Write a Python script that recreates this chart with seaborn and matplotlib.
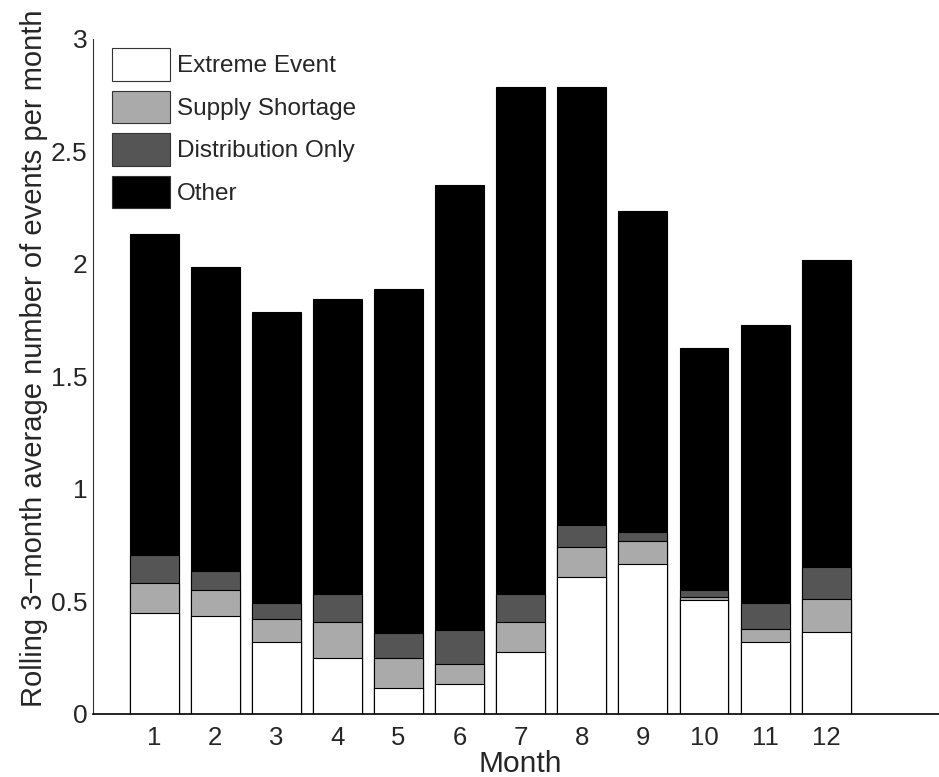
import numpy as np
import pandas as pd
import seaborn as sns
import matplotlib.pyplot as plt

months = list(range(1, 13))
extreme = [0.447, 0.434, 0.319, 0.246, 0.114, 0.129, 0.274, 0.607, 0.667, 0.507, 0.319, 0.363]
supply = [0.132, 0.117, 0.102, 0.160, 0.132, 0.089, 0.132, 0.132, 0.100, 0.013, 0.059, 0.145]
distribution = [0.128, 0.085, 0.071, 0.127, 0.114, 0.155, 0.127, 0.099, 0.042, 0.028, 0.114, 0.142]
other = [1.426, 1.352, 1.295, 1.310, 1.526, 1.976, 2.252, 1.947, 1.427, 1.079, 1.234, 1.368]

names = ['Extreme Event', 'Supply Shortage', 'Distribution Only', 'Other']
colors = ['#ffffff', '#aaaaaa', '#555555', '#000000']

sns.set_style('white')
plt.rcParams['font.family'] = ['Liberation Sans', 'DejaVu Sans']

df = pd.DataFrame({'Month': months, names[0]: extreme, names[1]: supply,
                   names[2]: distribution, names[3]: other})
# cumulative tops, drawn from the tallest down so the stack shows
tops = df[names].cumsum(axis=1)

fig = plt.figure(figsize=(9.39, 7.77), dpi=100)
ax = fig.add_axes([93 / 939, 1 - 713.5 / 777, 14 * 61.1 / 939, 674.5 / 777])

for name, col in reversed(list(zip(names, colors))):
    sns.barplot(x=df['Month'], y=tops[name], native_scale=True, color=col,
                saturation=1, edgecolor='black', linewidth=0.8, width=0.8,
                label=name, ax=ax)

ax.set_xlim(0, 14)
ax.set_ylim(0, 3)
ax.set_xticks(months)
ax.set_xticklabels([str(m) for m in months])
ax.set_yticks([0, 0.5, 1, 1.5, 2, 2.5, 3])
ax.set_yticklabels(['0', '0.5', '1', '1.5', '2', '2.5', '3'])
ax.tick_params(axis='y', direction='in', length=6.5, width=0.8, color='#333333',
               labelsize=19, pad=4)
ax.tick_params(axis='x', length=0, labelsize=18.5, pad=9)
sns.despine(ax=ax)
ax.spines['left'].set_color('#333333')
ax.spines['bottom'].set_color('black')
ax.spines['bottom'].set_linewidth(1.2)

ax.set_xlabel('Month', fontsize=21.5, labelpad=0)
ax.set_ylabel('Rolling 3\u2212month average number of events per month', fontsize=21)
ax.yaxis.set_label_coords(-0.053, 0.527)

handles, labels = ax.get_legend_handles_labels()
order = [labels.index(n) for n in names]
leg = ax.legend([handles[i] for i in order], [labels[i] for i in order],
                loc='upper left', bbox_to_anchor=(112 / 939, 1 - 48 / 777),
                bbox_transform=fig.transFigure, frameon=False, fontsize=17.5,
                handlelength=2.4, handleheight=1.7, labelspacing=0.4,
                handletextpad=0.28, borderpad=0, borderaxespad=0)
for p in leg.get_patches():
    p.set_edgecolor('#333333')

fig.savefig('out.png', dpi=100)
